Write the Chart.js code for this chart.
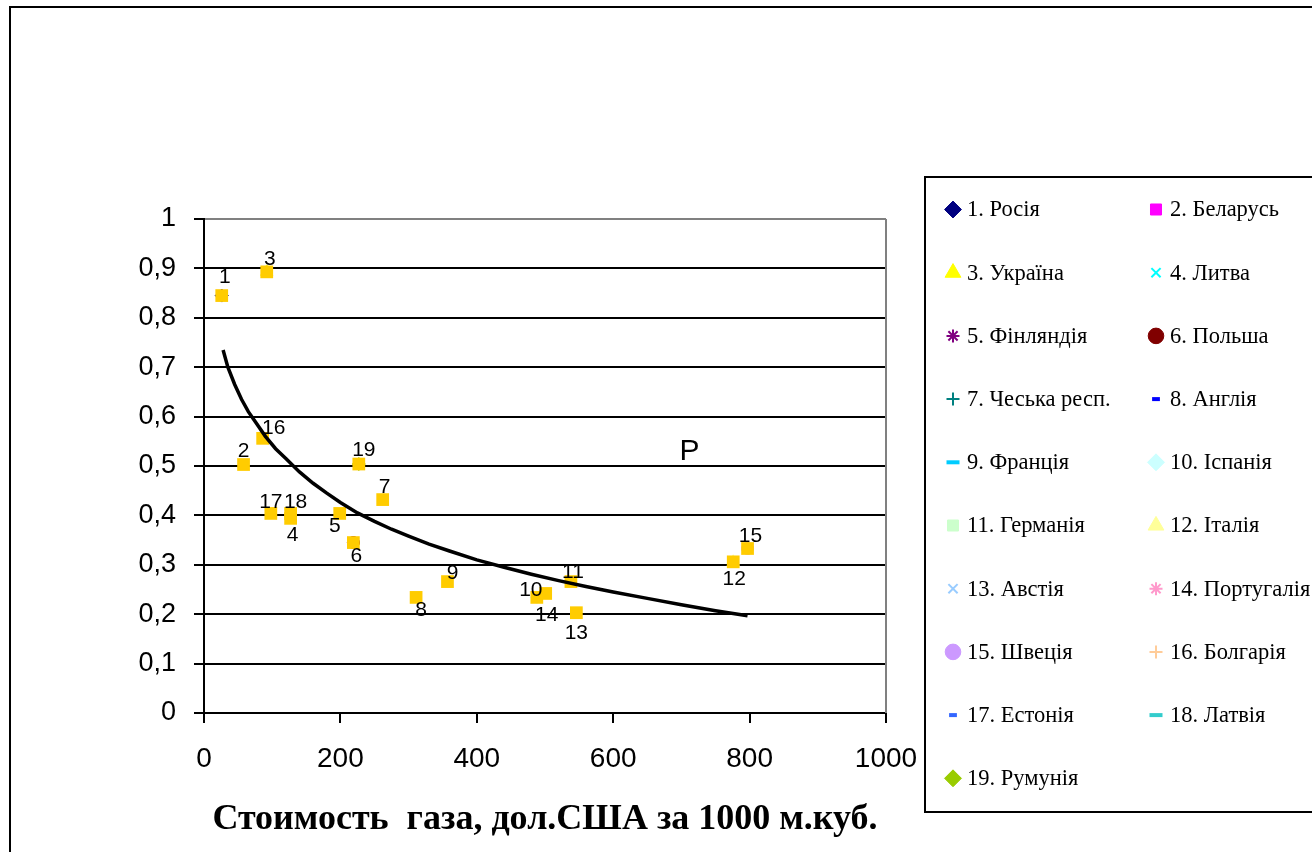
<!DOCTYPE html>
<html>
<head>
<meta charset="utf-8">
<script src="https://cdn.jsdelivr.net/npm/chart.js@4/dist/chart.umd.min.js"></script>
<style>
  html, body { margin: 0; padding: 0; background: #fff; overflow: hidden; }
  canvas { display: block; }
</style>
</head>
<body>
<canvas id="chart" width="1312" height="852"></canvas>
<script>
// Countries (legend order)
const countries = [
  '1. Росія', '2. Беларусь', '3. Україна', '4. Литва', '5. Фінляндія',
  '6. Польша', '7. Чеська респ.', '8. Англія', '9. Франція', '10. Іспанія',
  '11. Германія', '12. Італія', '13. Австія', '14. Португалія', '15. Швеція',
  '16. Болгарія', '17. Естонія', '18. Латвія', '19. Румунія'
];
// Gas price, USD per 1000 m3
const gasPrice = [26, 58, 92, 127, 199, 219, 262, 311, 357, 488, 538, 776, 546, 501, 797, 86, 98, 127, 227];
// Index value for each country
const indexValue = [0.845, 0.503, 0.893, 0.394, 0.404, 0.345, 0.432, 0.234, 0.266, 0.234, 0.266, 0.306, 0.203, 0.242, 0.333, 0.556, 0.404, 0.404, 0.504];
// Trend curve P
const trendX = [28, 35, 45, 55, 65, 75, 90, 105, 120, 140, 160, 180, 200, 225, 250, 275, 300, 330, 360, 400, 440, 480, 520, 560, 600, 650, 700, 750, 797];
const trendY = [0.735, 0.70, 0.665, 0.635, 0.61, 0.59, 0.56, 0.535, 0.515, 0.488, 0.465, 0.445, 0.426, 0.405, 0.388, 0.372, 0.358, 0.342, 0.328, 0.31, 0.295, 0.281, 0.268, 0.256, 0.245, 0.232, 0.219, 0.207, 0.197];
// Axis tick labels
const xTickLabels = ['0', '200', '400', '600', '800', '1000'];
const yTickLabels = ['0', '0,1', '0,2', '0,3', '0,4', '0,5', '0,6', '0,7', '0,8', '0,9', '1'];
const xTitle = 'Стоимость  газа, дол.США за 1000 м.куб.';
const curveLabel = 'P';
const curveLabelAt = { x: 712, y: 0.528 };

// Marker styles per country
const markerStyles = ['rectRot', 'rect', 'triangle', 'crossRot', 'star', 'circle', 'cross', 'line', 'line', 'rectRot',
  'rect', 'triangle', 'crossRot', 'star', 'circle', 'cross', 'line', 'line', 'rectRot'];
const markerColors = ['#000080', '#FF00FF', '#FFFF00', '#00FFFF', '#800080', '#800000', '#008080', '#0000FF', '#00CCFF', '#CCFFFF',
  '#CCFFCC', '#FFFF99', '#99CCFF', '#FF99CC', '#CC99FF', '#FFCC99', '#3366FF', '#33CCCC', '#99CC00'];
const markerRadius = [6.5, 6, 7, 5, 5, 6, 5, 3, 5, 6.5, 6, 7, 5, 5, 6, 5, 3, 5, 6.5];
const legendMarkerScale = 1.3;
// Number label offsets (px) from each gold point
const labelOffsets = [[3, -18], [0, -13], [3, -13], [2, 17], [-5, 13], [3, 14], [2, -12], [5, 13], [5, -8], [-6, -7],
  [2, -9], [1, 17], [0, 20], [1, 22], [3, -12], [11, -10], [0, -11], [5, -11], [5, -14]];

const points = gasPrice.map((x, i) => ({ x, y: indexValue[i] }));
const strokedStyles = ['line', 'cross', 'crossRot', 'star'];

const countryDatasets = countries.map((name, i) => ({
  label: name,
  data: [points[i]],
  pointStyle: markerStyles[i],
  pointRadius: markerRadius[i],
  pointBackgroundColor: markerColors[i],
  pointBorderColor: markerColors[i],
  pointBorderWidth: strokedStyles.includes(markerStyles[i]) ? 2 : 1,
  showLine: false,
  order: 2
}));

const goldDataset = {
  label: 'all',
  data: points,
  pointStyle: 'rect',
  pointRadius: 9,
  pointBackgroundColor: '#FFCC00',
  pointBorderColor: '#FFCC00',
  pointBorderWidth: 0,
  showLine: false,
  order: 1
};

const trendDataset = {
  label: 'P',
  data: trendX.map((x, i) => ({ x, y: trendY[i] })),
  showLine: true,
  borderColor: '#000',
  borderWidth: 3.5,
  pointRadius: 0,
  tension: 0,
  fill: false,
  order: 0
};

const framePlugin = {
  id: 'frame',
  beforeDraw(chart) {
    const ctx = chart.ctx;
    ctx.save();
    ctx.fillStyle = '#fff';
    ctx.fillRect(0, 0, chart.width, chart.height);
    ctx.strokeStyle = '#000';
    ctx.lineWidth = 2;
    ctx.strokeRect(10, 7, chart.width + 50, chart.height + 50);
    ctx.restore();
  },
  afterDraw(chart) {
    const ctx = chart.ctx;
    const a = chart.chartArea;
    ctx.save();
    ctx.strokeStyle = '#808080';
    ctx.lineWidth = 2;
    ctx.beginPath();
    ctx.moveTo(a.right, a.top);
    ctx.lineTo(a.right, a.bottom);
    ctx.stroke();
    ctx.restore();
  }
};

const labelPlugin = {
  id: 'pointNumbers',
  afterDatasetsDraw(chart) {
    const idx = chart.data.datasets.indexOf(goldDataset);
    const meta = chart.getDatasetMeta(idx);
    const ctx = chart.ctx;
    ctx.save();
    ctx.fillStyle = '#000';
    ctx.font = '21px "Liberation Sans", Arial, sans-serif';
    ctx.textAlign = 'center';
    ctx.textBaseline = 'middle';
    meta.data.forEach((el, i) => {
      const [dx, dy] = labelOffsets[i];
      ctx.fillText(String(i + 1), el.x + dx, el.y + dy);
    });
    const xs = chart.scales.x, ys = chart.scales.y;
    ctx.font = '30px "Liberation Sans", Arial, sans-serif';
    ctx.fillText(curveLabel, xs.getPixelForValue(curveLabelAt.x), ys.getPixelForValue(curveLabelAt.y));
    ctx.restore();
  }
};

const legendPlugin = {
  id: 'gridLegend',
  afterDraw(chart) {
    const ctx = chart.ctx;
    const box = { left: 925, top: 177, bottom: 812 };
    ctx.save();
    ctx.fillStyle = '#fff';
    ctx.fillRect(box.left, box.top, chart.width - box.left + 10, box.bottom - box.top);
    ctx.strokeStyle = '#000';
    ctx.lineWidth = 2;
    ctx.strokeRect(box.left, box.top, chart.width - box.left + 20, box.bottom - box.top);
    const colX = [953, 1156];
    const rowY0 = 209.5, rowStep = 63.2;
    countries.forEach((name, i) => {
      const col = i % 2, row = Math.floor(i / 2);
      const x = colX[col], y = rowY0 + row * rowStep;
      const style = markerStyles[i];
      ctx.fillStyle = markerColors[i];
      ctx.strokeStyle = markerColors[i];
      ctx.lineWidth = style === 'line' ? 4 : (strokedStyles.includes(style) ? 2 : 1);
      Chart.helpers.drawPoint(ctx, {
        pointStyle: style,
        radius: markerRadius[i] * legendMarkerScale,
        rotation: 0,
        borderWidth: ctx.lineWidth
      }, x, y);
      ctx.fillStyle = '#000';
      ctx.font = '22.5px "Liberation Serif", "Times New Roman", serif';
      ctx.textAlign = 'left';
      ctx.textBaseline = 'middle';
      ctx.fillText(name, x + 14, y + 1);
    });
    ctx.restore();
  }
};

new Chart(document.getElementById('chart'), {
  type: 'scatter',
  data: { datasets: [trendDataset, goldDataset, ...countryDatasets] },
  options: {
    responsive: false,
    animation: false,
    events: [],
    layout: { padding: { left: 0, right: 426, top: 219, bottom: 0 } },
    plugins: { legend: { display: false }, tooltip: { enabled: false } },
    scales: {
      x: {
        type: 'linear',
        min: 0, max: 1000,
        afterFit(scale) { scale.height = 139; },
        afterBuildTicks(scale) { scale.ticks = xTickLabels.map(t => ({ value: Number(t) })); },
        ticks: {
          color: '#000',
          font: { family: '"Liberation Sans", Arial, sans-serif', size: 28 },
          padding: 19,
          callback: (v, i) => xTickLabels[i]
        },
        grid: { drawOnChartArea: false, drawTicks: true, tickLength: 10, color: '#000', lineWidth: 2 },
        border: { color: '#000', width: 2 },
        title: {
          display: true,
          text: xTitle,
          color: '#000',
          font: { family: '"Liberation Serif", "Times New Roman", serif', size: 36, weight: 'bold' },
          padding: { top: 0, bottom: 11 }
        }
      },
      y: {
        type: 'linear',
        min: 0, max: 1,
        afterFit(scale) { scale.width = 204; },
        afterBuildTicks(scale) { scale.ticks = yTickLabels.map((t, i) => ({ value: i / 10 })); },
        ticks: {
          color: '#000',
          font: { family: '"Liberation Sans", Arial, sans-serif', size: 27 },
          padding: 18,
          callback: (v, i) => yTickLabels[i]
        },
        grid: {
          color: c => (c.tick && c.tick.value === 1 ? '#808080' : '#000'),
          tickColor: '#000',
          lineWidth: 2,
          tickLength: 10
        },
        border: { color: '#000', width: 2 }
      }
    }
  },
  plugins: [framePlugin, labelPlugin, legendPlugin]
});
</script>
</body>
</html>
